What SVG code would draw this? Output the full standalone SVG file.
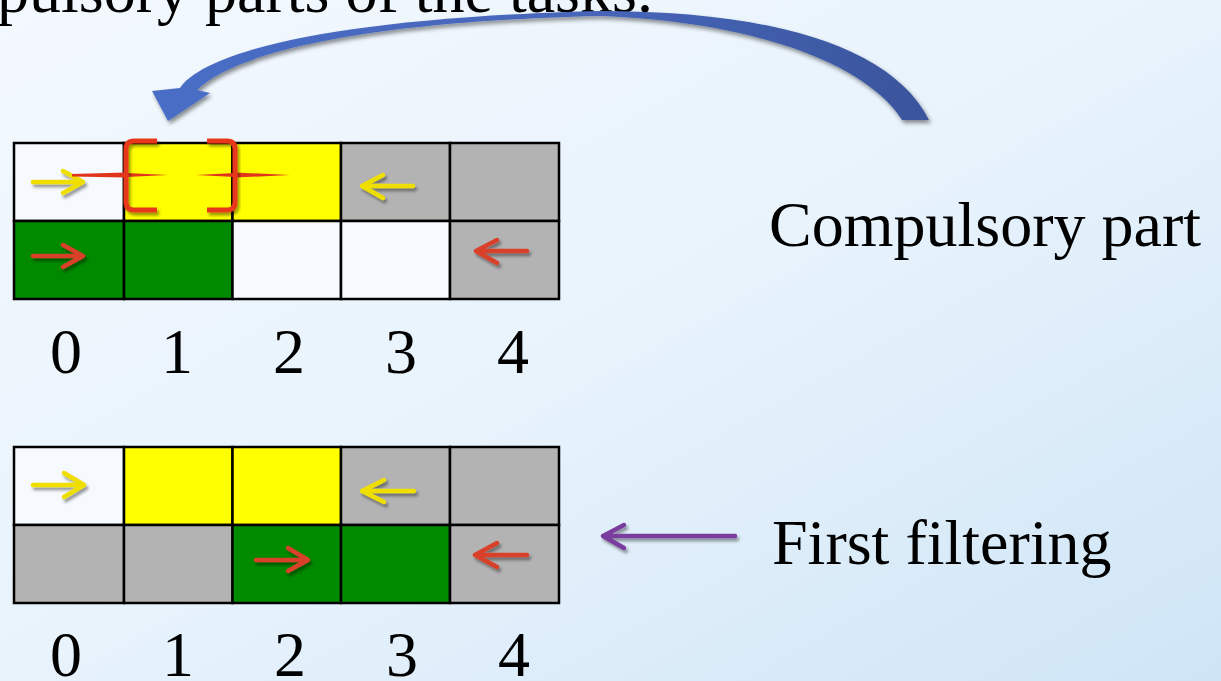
<svg xmlns="http://www.w3.org/2000/svg" width="1221" height="681" viewBox="0 0 1221 681">
  <defs>
    <linearGradient id="bg" x1="0" y1="0" x2="1" y2="1">
      <stop offset="0" stop-color="#f3f9fe"/>
      <stop offset="0.5" stop-color="#e8f3fc"/>
      <stop offset="1" stop-color="#cfe5f6"/>
    </linearGradient>
    <linearGradient id="curveFill" x1="150" y1="0" x2="930" y2="0" gradientUnits="userSpaceOnUse">
      <stop offset="0" stop-color="#4a6ec6"/>
      <stop offset="0.6" stop-color="#4664b8"/>
      <stop offset="1" stop-color="#3a559c"/>
    </linearGradient>
    <filter id="shadow" x="-20%" y="-20%" width="140%" height="160%">
      <feDropShadow dx="2" dy="3" stdDeviation="2" flood-color="#000" flood-opacity="0.45"/>
    </filter>
    <filter id="softShadow" x="-20%" y="-40%" width="140%" height="180%">
      <feDropShadow dx="2" dy="3" stdDeviation="1.6" flood-color="#000" flood-opacity="0.4"/>
    </filter>
    <style>
      .lbl { font-family: "Liberation Serif", "Times New Roman", serif; font-size: 64px; fill: #000; }
      .num { font-family: "Liberation Serif", "Times New Roman", serif; font-size: 64px; fill: #000; text-anchor: middle; }
      .cell { stroke: #000; stroke-width: 2.5; }
      .w { fill: #f6f9fd; }
      .y { fill: #ffff00; }
      .g { fill: #008a00; }
      .k { fill: #b3b3b3; }
      .arw { fill: none; stroke-width: 4.5; stroke-linecap: round; stroke-linejoin: round; filter: url(#softShadow); }
      .ay { stroke: #efdf00; }
      .ar { stroke: #d9412a; }
      .ap { stroke: #7a3c9e; }
      .brace { fill: none; stroke: #e8391b; stroke-width: 5; stroke-linecap: butt; stroke-linejoin: round; filter: url(#softShadow); }
      .spike { fill: #e0351a; }
    </style>
  </defs>

  <rect width="1221" height="681" fill="url(#bg)"/>

  <!-- heading line, running off the top edge -->
  <text id="heading" class="lbl" x="-3" y="12">pulsory parts of the tasks.</text>

  <!-- upper grid: positions 0..4, two rows -->
  <g id="grid-top">
    <rect class="cell w" x="14" y="143" width="110" height="78"/>
    <rect class="cell y" x="124" y="143" width="108.5" height="78"/>
    <rect class="cell y" x="232.5" y="143" width="108.5" height="78"/>
    <rect class="cell k" x="341" y="143" width="109" height="78"/>
    <rect class="cell k" x="450" y="143" width="109" height="78"/>
    <rect class="cell g" x="14" y="221" width="110" height="78"/>
    <rect class="cell g" x="124" y="221" width="108.5" height="78"/>
    <rect class="cell w" x="232.5" y="221" width="108.5" height="78"/>
    <rect class="cell w" x="341" y="221" width="109" height="78"/>
    <rect class="cell k" x="450" y="221" width="109" height="78"/>
  </g>

  <g id="axis-top">
    <text class="num" x="66" y="373">0</text>
    <text class="num" x="177" y="373">1</text>
    <text class="num" x="289" y="373">2</text>
    <text class="num" x="401" y="373">3</text>
    <text class="num" x="513" y="373">4</text>
  </g>

  <!-- lower grid after filtering -->
  <g id="grid-bottom">
    <rect class="cell w" x="14" y="447" width="110" height="78"/>
    <rect class="cell y" x="124" y="447" width="108.5" height="78"/>
    <rect class="cell y" x="232.5" y="447" width="108.5" height="78"/>
    <rect class="cell k" x="341" y="447" width="109" height="78"/>
    <rect class="cell k" x="450" y="447" width="109" height="78"/>
    <rect class="cell k" x="14" y="525" width="110" height="78"/>
    <rect class="cell k" x="124" y="525" width="108.5" height="78"/>
    <rect class="cell g" x="232.5" y="525" width="108.5" height="78"/>
    <rect class="cell g" x="341" y="525" width="109" height="78"/>
    <rect class="cell k" x="450" y="525" width="109" height="78"/>
  </g>

  <g id="axis-bottom">
    <text class="num" x="66" y="676">0</text>
    <text class="num" x="178" y="676">1</text>
    <text class="num" x="290" y="676">2</text>
    <text class="num" x="402" y="676">3</text>
    <text class="num" x="514" y="676">4</text>
  </g>

  <!-- direction arrows inside cells -->
  <g id="cell-arrows">
    <path class="arw ay" d="M33,182 H83 M63,171 L83,182 L63,193"/>
    <path class="arw ar" d="M33,256 H83 M63,245 L83,256 L63,267"/>
    <path class="arw ay" d="M413,186 H362 M383,175 L362,186 L383,198"/>
    <path class="arw ar" d="M527,251 H476 M497,240 L476,251 L497,263"/>
    <path class="arw ay" d="M33,485 H84 M64,473 L84,485 L64,497"/>
    <path class="arw ay" d="M414,491 H362 M384,480 L362,491 L384,502"/>
    <path class="arw ar" d="M256,560 H308 M288,548 L308,560 L288,571"/>
    <path class="arw ar" d="M527,555 H475 M497,543 L475,555 L497,567"/>
  </g>

  <!-- compulsory part markers on cell 1 -->
  <g id="compulsory-brace">
    <path class="spike" d="M72,174 L126,172.5 L126,177.5 L72,176.5 Z"/>
    <path class="spike" d="M126,173 L168,175 L126,177 Z"/>
    <path class="spike" d="M196,175 L235,173 L235,177 Z"/>
    <path class="spike" d="M235,172.5 L290,175 L235,177.5 Z"/>
    <path class="brace" d="M157,141 H134 Q126,141 126,149 V202 Q126,210 134,210 H157"/>
    <path class="brace" d="M207,141 H227 Q235,141 235,149 V202 Q235,210 227,210 H207"/>
  </g>

  <g id="label-compulsory">
    <text class="lbl" x="769" y="246">Compulsory part</text>
  </g>
  <g id="label-filtering">
    <text class="lbl" x="772" y="564">First filtering</text>
  </g>

  <g id="connectors">
    <!-- curved arrow from the label side back to cell 1 -->
    <path fill="url(#curveFill)" filter="url(#shadow)"
          d="M168,121 L152,91 L180,88 C205,52 330,18 600,11 C760,11 890,42 929,120 L902,120 C868,66 760,22 600,16 C352,22 232,55 197,90 L210,93 Z"/>
    <!-- filtering pointer -->
    <path class="arw ap" d="M735,536 H603 M624,525 L603,536 L624,548"/>
  </g>
</svg>
